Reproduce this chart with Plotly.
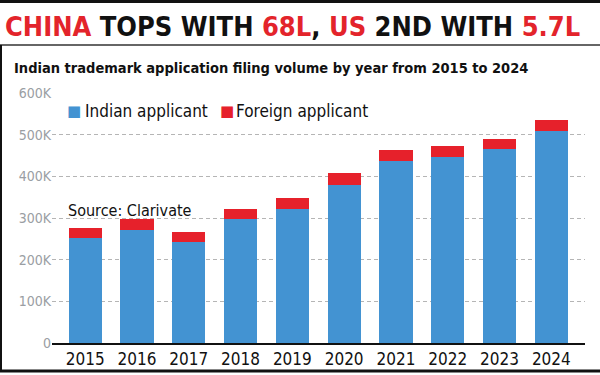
import plotly.graph_objects as go

# ---- data ----
years = ["2015", "2016", "2017", "2018", "2019", "2020", "2021", "2022", "2023", "2024"]
indian = [251000, 271000, 243000, 298000, 322000, 380000, 436000, 446000, 466000, 509000]
foreign = [24000, 26000, 24000, 24000, 27000, 27000, 28000, 28000, 24000, 26000]
series_names = ["Indian applicant", "Foreign applicant"]
ytick_vals = [0, 100000, 200000, 300000, 400000, 500000, 600000]
ytick_text = ["0", "100K", "200K", "300K", "400K", "500K", "600K"]
headline = [("CHINA", "red"), (" TOPS WITH ", "black"), ("68L", "red"), (",", "black"),
            (" US", "red"), (" 2ND WITH ", "black"), ("5.7L", "red")]
title_text = "Indian trademark application filing volume by year from 2015 to 2024"
source_text = "Source: Clarivate"

# ---- style ----
W, H = 600, 375
L, R, T, B = 52, 15, 93, 32
BLUE = "#4393d2"
RED = "#e6212b"
FONT = "DejaVu Sans Condensed, Liberation Sans Narrow, Roboto, sans-serif"
plot_w = W - L - R
plot_h = H - T - B


def px_x(x):
    return (x - L) / plot_w


def px_y(y):
    return (H - B - y) / plot_h


series_colors = [BLUE, RED]

fig = go.Figure()
fig.add_trace(go.Bar(x=years, y=indian, name=series_names[0], marker=dict(color=BLUE, line=dict(width=0))))
fig.add_trace(go.Bar(x=years, y=foreign, name=series_names[1], marker=dict(color=RED, line=dict(width=0))))

colors = {"red": "#e3242b", "black": "#111111"}
head_html = "".join(f"<span style='color:{colors[c]}'>{t}</span>" for t, c in headline)

# custom legend (swatch + label) positions in pixels
legend_swatch_x = [65, 218]
legend_text_x = [83, 234]
legend_y = 111

annotations = [
    dict(text=f"<b>{head_html}</b>", xref="paper", yref="paper",
         x=px_x(3), y=px_y(26), xanchor="left", yanchor="middle",
         showarrow=False, font=dict(size=27, family=FONT)),
    dict(text=f"<b>{title_text}</b>", xref="paper", yref="paper",
         x=px_x(12), y=px_y(68), xanchor="left", yanchor="middle",
         showarrow=False, font=dict(size=14.5, family=FONT, color="#111111")),
    dict(text=source_text, xref="paper", yref="y",
         x=px_x(66), y=(H - B - 210) / plot_h * 600000, xanchor="left", yanchor="middle",
         showarrow=False, font=dict(size=16, family=FONT, color="#111111")),
]
for name, col, sx, tx in zip(series_names, series_colors, legend_swatch_x, legend_text_x):
    annotations.append(dict(text="■", xref="paper", yref="paper", x=px_x(sx), y=px_y(legend_y),
                            xanchor="left", yanchor="middle", showarrow=False,
                            font=dict(size=15, family="DejaVu Sans", color=col)))
    annotations.append(dict(text=name, xref="paper", yref="paper", x=px_x(tx), y=px_y(legend_y),
                            xanchor="left", yanchor="middle", showarrow=False,
                            font=dict(size=17, family=FONT, color="#111111")))

fig.update_layout(
    width=W, height=H,
    barmode="stack", bargap=0.36,
    margin=dict(l=L, r=R, t=T, b=B, autoexpand=False),
    paper_bgcolor="white", plot_bgcolor="white",
    font=dict(family=FONT, color="#111111"),
    showlegend=False,
    xaxis=dict(type="category", range=[-0.64, 9.65], showgrid=False,
               showline=True, linecolor="#111111", linewidth=1.5,
               ticks="", tickfont=dict(size=17, color="#111111")),
    yaxis=dict(range=[0, 600000], tickvals=ytick_vals, ticktext=ytick_text,
               showgrid=True, gridcolor="#b5b5b5", gridwidth=1, griddash="4px,3px",
               zeroline=False, showline=False, ticks="",
               tickfont=dict(size=14, color="#9a9ea3")),
    annotations=annotations,
    shapes=[
        dict(type="rect", xref="paper", yref="paper", x0=px_x(0), x1=px_x(W), y0=px_y(0), y1=px_y(3),
             fillcolor="#111111", line=dict(width=0), layer="above"),
        dict(type="line", xref="paper", yref="paper", x0=px_x(0), x1=px_x(W), y0=px_y(45), y1=px_y(45),
             line=dict(color="#666666", width=2)),
        dict(type="line", xref="paper", yref="paper", x0=px_x(1), x1=px_x(1), y0=px_y(45), y1=px_y(371),
             line=dict(color="#111111", width=2)),
        dict(type="line", xref="paper", yref="paper", x0=px_x(0), x1=px_x(W), y0=px_y(371), y1=px_y(371),
             line=dict(color="#111111", width=3)),
    ],
)

fig.write_html("out.html", config={"displayModeBar": False},
               post_script="document.body.style.margin='0';")
